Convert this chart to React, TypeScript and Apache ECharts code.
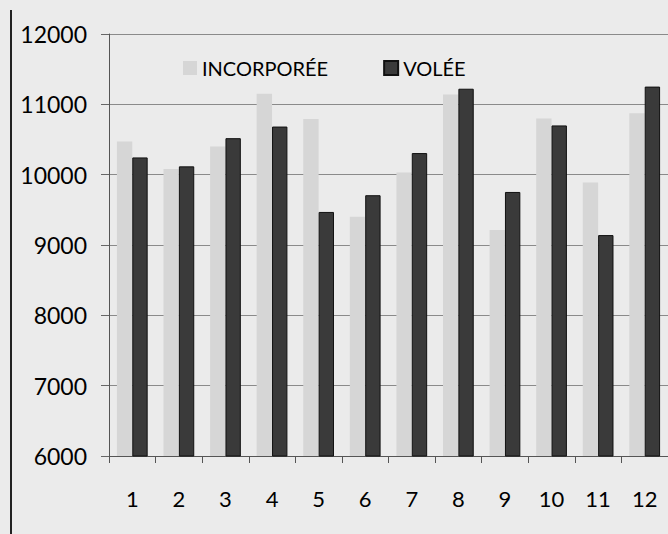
import React, { useEffect, useRef } from "react";
import * as echarts from "echarts";

const categories = ["1", "2", "3", "4", "5", "6", "7", "8", "9", "10", "11", "12"];
const incorporee = [10470, 10080, 10400, 11150, 10790, 9400, 10030, 11140, 9215, 10800, 9890, 10875];
const volee = [10245, 10118, 10519, 10684, 9470, 9708, 10307, 11222, 9754, 10700, 9141, 11252];
const seriesNames = ["INCORPORÉE", "VOLÉE"];
const yMin = 6000;
const yMax = 12000;
const yStep = 1000;

export default function App() {
  const ref = useRef<HTMLDivElement>(null);
  useEffect(() => {
    document.body.style.margin = "0";
    const chart = echarts.init(ref.current!, null, { renderer: "svg" });
    const font = "Lato, 'Open Sans', sans-serif";
    chart.setOption({
      animation: false,
      backgroundColor: "#ebebeb",
      textStyle: { fontFamily: font },
      grid: { left: 109, top: 34, right: -4, bottom: 78, containLabel: false },
      legend: {
        left: 178,
        top: 53,
        itemWidth: 14,
        itemHeight: 14,
        itemGap: 55,
        icon: "rect",
        textStyle: { fontSize: 20, color: "#000", fontFamily: font },
        data: seriesNames,
      },
      xAxis: {
        type: "category",
        data: categories,
        axisLine: { lineStyle: { color: "#555", width: 1 } },
        axisTick: { show: true, length: 7, inside: false, lineStyle: { color: "#555" } },
        axisLabel: { fontSize: 22, color: "#000", margin: 31, fontFamily: font },
        splitLine: { show: false },
      },
      yAxis: {
        type: "value",
        min: yMin,
        max: yMax,
        interval: yStep,
        axisLine: { show: true, lineStyle: { color: "#555", width: 1 } },
        axisTick: { show: true, length: 8, lineStyle: { color: "#666" } },
        axisLabel: {
          fontSize: 23,
          color: "#000",
          margin: 22,
          fontFamily: font,
          formatter: (v: number) => String(v),
        },
        splitLine: { show: true, lineStyle: { color: "#8a8a8a", width: 1 } },
      },
      series: [
        {
          name: seriesNames[0],
          type: "bar",
          data: incorporee,
          barGap: "0%",
          barCategoryGap: "34%",
          itemStyle: { color: "#d6d6d6" },
        },
        {
          name: seriesNames[1],
          type: "bar",
          data: volee,
          itemStyle: { color: "#3a3a3a", borderColor: "#111", borderWidth: 1 },
        },
      ],
      graphic: [
        {
          type: "line",
          shape: { x1: 11, y1: 10, x2: 11, y2: 534 },
          style: { stroke: "#222", lineWidth: 2 },
        },
      ],
    });
    return () => chart.dispose();
  }, []);
  return <div ref={ref} style={{ width: 668, height: 534 }} />;
}
